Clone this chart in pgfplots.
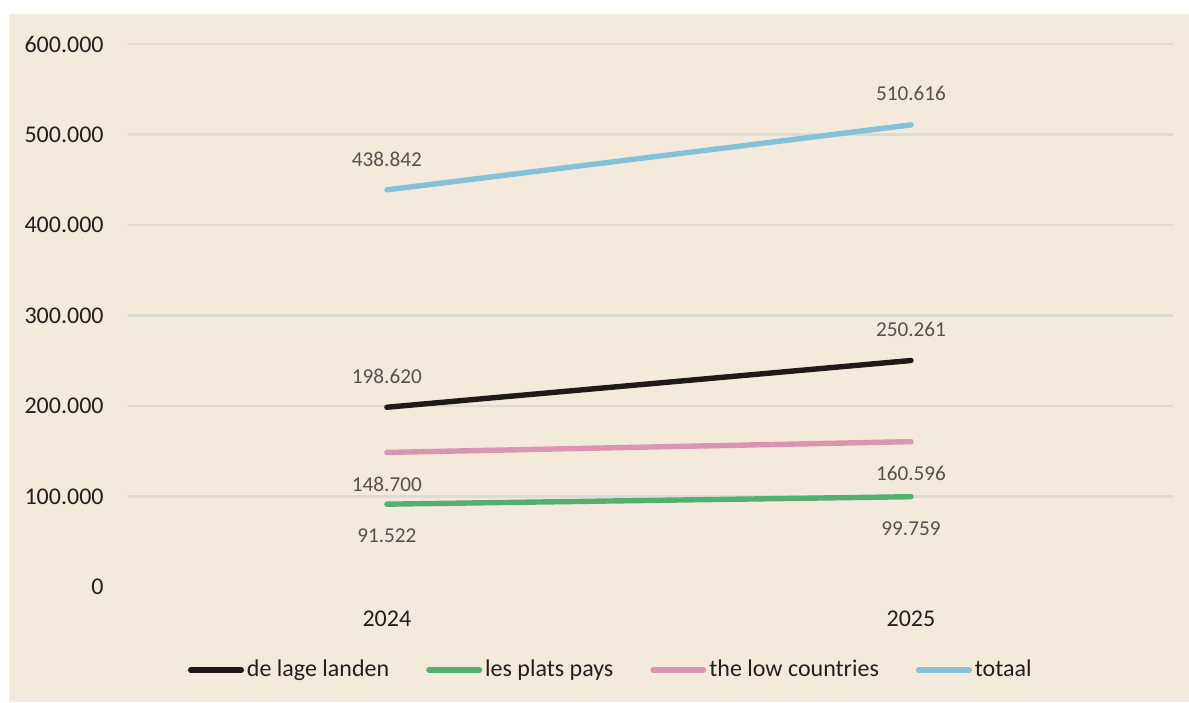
\documentclass[border=0pt]{standalone}
\usepackage{fontspec}
\setmainfont{Carlito}
\usepackage{pgfplots}
\pgfplotsset{compat=1.18}
\definecolor{bg}{RGB}{244,234,220}
\definecolor{gridc}{RGB}{221,219,214}
\definecolor{tickc}{RGB}{35,31,32}
\definecolor{labc}{RGB}{90,78,78}
\definecolor{cblack}{RGB}{31,25,26}
\definecolor{cgreen}{RGB}{85,176,111}
\definecolor{cpink}{RGB}{219,149,176}
\definecolor{cblue}{RGB}{134,194,215}
\begin{document}
\begin{tikzpicture}
\useasboundingbox (0,0) rectangle (594.5pt,351pt);
\fill[bg] (4.5pt,0) rectangle (594.5pt,344pt);
\begin{axis}[
  at={(64pt,57.5pt)}, anchor=south west,
  scale only axis, width=522.5pt, height=271.5pt,
  xmin=-0.494, xmax=1.5, ymin=0, ymax=600000,
  scaled y ticks=false,
  axis line style={draw=none},
  major tick length=0pt,
  xtick={0,1}, xticklabels={2024,2025},
  ytick={100000,200000,300000,400000,500000,600000},
  yticklabels={100.000,200.000,300.000,400.000,500.000,600.000},
  extra y ticks={0}, extra y tick labels={0},
  extra y tick style={grid=none},
  ymajorgrids, grid style={draw=gridc, line width=1.2pt},
  yticklabel style={font=\fontsize{12}{14}\selectfont, color=tickc, anchor=east, inner sep=0pt, xshift=-12pt},
  xticklabel style={font=\fontsize{12}{14}\selectfont, color=tickc, anchor=center, inner sep=0pt, yshift=-16pt},
  point meta=explicit symbolic,
  legend columns=4,
  legend style={at={(0.4625,-0.1529)}, anchor=center, draw=none, fill=none,
    font=\fontsize{12}{14}\selectfont, text=tickc,
    /tikz/every even column/.append style={column sep=17pt},
    nodes={inner sep=1.5pt}},
  legend image code/.code={\draw[#1, line cap=round] (1.2pt,0pt) -- (26.5pt,0pt);},
  every axis plot/.append style={line width=2.7pt, line cap=round, no markers},
  nodes near coords,
  every node near coord/.append style={font=\fontsize{10.6}{12}\selectfont, text=labc, anchor=center, inner sep=0pt},
]
\addplot[cblack, every node near coord/.append style={yshift=15.5pt}]
  coordinates {(0,198620) [198.620] (1,250261) [250.261]};
\addlegendentry{de lage landen}
\addplot[cgreen, every node near coord/.append style={yshift=-16pt}]
  coordinates {(0,91522) [91.522] (1,99759) [99.759]};
\addlegendentry{les plats pays}
\addplot[cpink, every node near coord/.append style={yshift=-16pt}]
  coordinates {(0,148700) [148.700] (1,160596) [160.596]};
\addlegendentry{the low countries}
\addplot[cblue, every node near coord/.append style={yshift=15.5pt}]
  coordinates {(0,438842) [438.842] (1,510616) [510.616]};
\addlegendentry{totaal}
\end{axis}
\end{tikzpicture}
\end{document}
